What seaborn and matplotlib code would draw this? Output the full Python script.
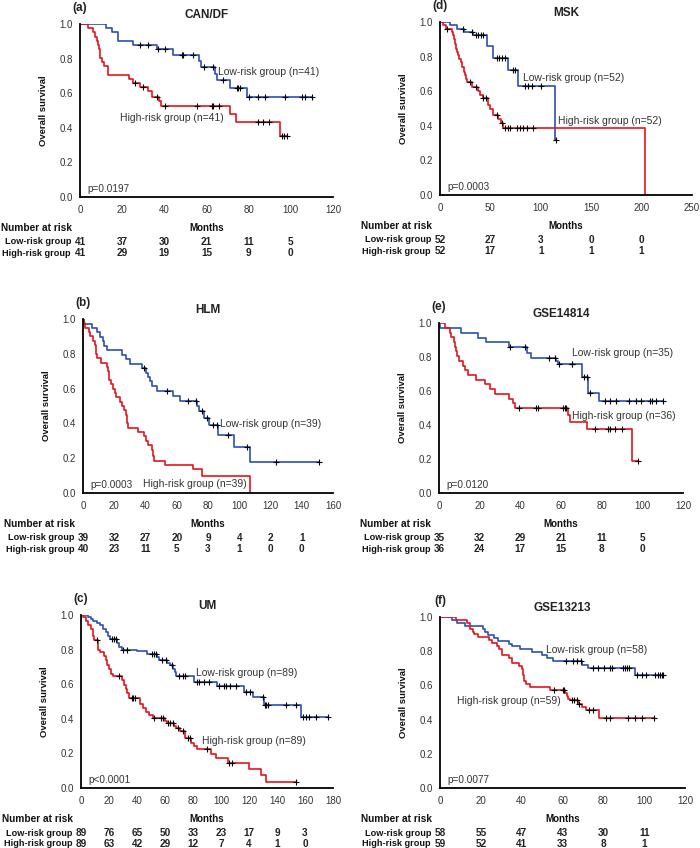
import numpy as np
import pandas as pd
import seaborn as sns
import matplotlib
matplotlib.use("Agg")
import matplotlib.pyplot as plt
from matplotlib import transforms

####################################################
# DATA  (step times in months, survival after each step, censor times)
####################################################

# (a) CAN/DF
can_low_t = [12.3, 15.3, 18.2, 25.3, 36.4, 44.3, 56.4, 57.4, 64.0, 65.1, 71.1, 79.4]
can_low_s = [0.976, 0.951, 0.902, 0.878, 0.853, 0.820, 0.787, 0.751, 0.713, 0.676, 0.631, 0.579]
can_low_cens = [28.5, 32.4, 37, 40.3, 48.2, 49, 53.4, 58.8, 63.2, 68, 74.3, 75.1, 75.9,
                80.3, 84.6, 87.7, 97.2, 105.1, 106.7, 109.9]
can_high_t = [4, 6, 7, 8, 8.7, 9.2, 9.5, 10.3, 11.4, 13.1, 23.4, 25.3, 28.5, 32.4, 34.3,
              37.6, 38.4, 71.1, 74, 94.9]
can_high_s = [0.976, 0.951, 0.927, 0.902, 0.878, 0.854, 0.805, 0.780, 0.756, 0.707, 0.683,
              0.659, 0.634, 0.610, 0.580, 0.553, 0.524, 0.479, 0.434, 0.351]
can_high_cens = [26, 30, 36.4, 40.3, 55.3, 62.5, 63.2, 66.1, 84.6, 87, 89.8, 95.7, 96.8, 98]
can_risk_t = [0, 20, 40, 60, 80, 100]
can_risk_low = [41, 37, 30, 21, 11, 5]
can_risk_high = [41, 29, 19, 15, 9, 0]

# (d) MSK
msk_low_t = [10, 17, 24, 33, 47, 52.3, 67.9, 77.8, 114.2]
msk_low_s = [0.981, 0.962, 0.942, 0.923, 0.861, 0.790, 0.723, 0.632, 0.316]
msk_low_cens = [22.5, 31.5, 35.8, 38, 40.4, 43, 56.3, 58.9, 61.3, 64.6, 72, 74.5, 84.4,
                87.7, 91, 100, 115]
msk_high_t = [3.3, 6.0, 11.6, 13.2, 14.2, 15.2, 15.9, 16.6, 18.2, 19.2, 20.9, 21.9, 24.2,
              24.8, 25.8, 27.2, 31.5, 38.1, 39.7, 42.4, 48.0, 49.7, 52.3, 57.3, 60.3, 62.3,
              203.6]
msk_high_s = [0.981, 0.962, 0.942, 0.923, 0.904, 0.875, 0.846, 0.827, 0.808, 0.788, 0.769,
              0.740, 0.712, 0.692, 0.673, 0.654, 0.625, 0.601, 0.580, 0.558, 0.522, 0.500,
              0.460, 0.440, 0.418, 0.385, 0.0]
msk_high_cens = [7.3, 29.8, 35.8, 43, 45.7, 56.3, 61.3, 64.6, 67.9, 69.5, 76, 79.5, 82.8,
                 86, 92]
msk_risk_t = [0, 50, 100, 150, 200]
msk_risk_low = [52, 27, 3, 0, 0]
msk_risk_high = [52, 17, 1, 1, 1]

# (b) HLM
hlm_low_t = [0.4, 5.7, 9.0, 10.6, 12.8, 13.6, 15.3, 24.9, 27.7, 29.8, 37.7, 40.2, 41.3,
             42.6, 44.0, 47.2, 57.4, 62.1, 73.2, 74.3, 77.4, 80.6, 86.6, 96.8, 106.8]
hlm_low_s = [0.974, 0.949, 0.923, 0.897, 0.872, 0.846, 0.821, 0.795, 0.769, 0.744, 0.718,
             0.692, 0.667, 0.641, 0.615, 0.589, 0.560, 0.531, 0.500, 0.469, 0.430, 0.391,
             0.334, 0.267, 0.178]
hlm_low_cens = [39.1, 53.6, 67.4, 72.3, 76.4, 79.6, 83.4, 85.5, 93.0, 105.1, 123.8, 151]
hlm_high_t = [0.5, 1.5, 3.6, 4.7, 6.4, 7.4, 8.3, 8.9, 11.7, 15.3, 16.0, 16.6, 17.7, 18.9,
              20.6, 21.3, 23.4, 24.9, 26.4, 27.4, 28.1, 29.1, 35.1, 39.1, 40.2, 41.9, 44.0,
              45.1, 45.7, 52.6, 70.6, 76.2, 106.8]
hlm_high_s = [0.975, 0.950, 0.925, 0.900, 0.875, 0.850, 0.800, 0.775, 0.750, 0.725, 0.700,
              0.650, 0.625, 0.600, 0.575, 0.550, 0.525, 0.500, 0.475, 0.450, 0.400, 0.375,
              0.350, 0.325, 0.300, 0.275, 0.250, 0.215, 0.185, 0.162, 0.136, 0.100, 0.0]
hlm_high_cens = []
hlm_risk_t = [0, 20, 40, 60, 80, 100, 120, 140]
hlm_risk_low = [39, 32, 27, 20, 9, 4, 2, 1]
hlm_risk_high = [40, 23, 11, 5, 3, 1, 0, 0]

# (e) GSE14814
g148_low_t = [0.3, 11.0, 19.2, 23.3, 34.3, 43.3, 45.0, 57.5, 58.4, 70.3, 73.3, 78.7]
g148_low_s = [0.971, 0.943, 0.914, 0.886, 0.857, 0.826, 0.796, 0.776, 0.760, 0.682, 0.590,
              0.542]
g148_low_cens = [34.8, 42.1, 53.9, 56.9, 58.9, 65.4, 65.6, 71.3, 72.6, 74.1, 81.5, 83.9,
                 87.2, 93.4, 96.7, 99.5, 103.6, 104.9, 106.6, 110.2]
g148_high_t = [2.8, 5.2, 6.0, 7.2, 7.9, 8.2, 8.9, 9.8, 11.8, 12.6, 14.3, 18.0, 22.5, 24.9,
               27.7, 34.4, 36.4, 37.2, 63.4, 64.3, 72.8, 94.9]
g148_high_s = [0.972, 0.944, 0.917, 0.889, 0.861, 0.833, 0.806, 0.778, 0.750, 0.722, 0.694,
               0.667, 0.639, 0.611, 0.583, 0.555, 0.527, 0.500, 0.458, 0.417, 0.375, 0.188]
g148_high_cens = [39.3, 47.9, 48.7, 61.0, 61.8, 62.6, 76.9, 83.1, 83.9, 86.7, 90.2, 97.9]
g148_risk_t = [0, 20, 40, 60, 80, 100]
g148_risk_low = [35, 32, 29, 21, 11, 5]
g148_risk_high = [36, 24, 17, 15, 8, 0]

# (c) UM
um_low_t = [5.2, 6.9, 8.8, 11.2, 13.6, 15.9, 17.8, 19.5, 20.7, 25.9, 27.3, 29.0, 39.7,
            46.8, 54.0, 55.9, 61.1, 63.5, 65.9, 67.0, 68.2, 80.8, 96.8, 116.3, 122.9,
            130.5, 157.4]
um_low_s = [0.989, 0.978, 0.966, 0.955, 0.944, 0.921, 0.899, 0.876, 0.860, 0.838, 0.817,
            0.800, 0.790, 0.776, 0.760, 0.742, 0.725, 0.709, 0.690, 0.670, 0.650, 0.611,
            0.590, 0.557, 0.524, 0.482, 0.412]
um_low_cens = [21.9, 23.5, 25.0, 30.2, 32.6, 50.4, 52.0, 53.5, 57.5, 60.4, 64.7, 70.1,
               72.5, 74.2, 83.2, 84.4, 87.7, 91.5, 98.7, 102.0, 103.9, 106.3, 110.6, 118.2,
               121.0, 129.8, 131.2, 132.4, 133.6, 146.2, 153.4, 158.6, 160.5, 162.9, 168.1,
               176.4]
um_high_t = [1.7, 3.6, 5.2, 6.9, 8.3, 9.5, 12.4, 13.6, 16.4, 17.8, 18.8, 20.0, 21.2, 23.1,
             29.0, 30.7, 31.9, 33.0, 34.5, 42.1, 44.5, 46.4, 48.7, 51.1, 59.9, 61.1, 66.3,
             68.2, 70.6, 74.2, 78.9, 80.6, 82.5, 92.5, 96.3, 104.8, 120.1, 128.9, 132.4]
um_high_s = [0.989, 0.966, 0.944, 0.921, 0.876, 0.854, 0.800, 0.787, 0.764, 0.738, 0.712,
             0.690, 0.658, 0.645, 0.622, 0.598, 0.575, 0.550, 0.518, 0.485, 0.462, 0.441,
             0.420, 0.403, 0.390, 0.375, 0.360, 0.345, 0.330, 0.287, 0.262, 0.245, 0.224,
             0.195, 0.173, 0.144, 0.112, 0.073, 0.035]
um_high_cens = [11.2, 27.3, 36.1, 37.3, 38.5, 52.3, 57.1, 58.7, 62.3, 63.5, 65.4, 69.4,
                73.0, 76.6, 78.2, 90.3, 105.8, 107.5, 153.4]
um_risk_t = [0, 20, 40, 60, 80, 100, 120, 140, 160]
um_risk_low = [89, 76, 65, 50, 33, 23, 17, 9, 3]
um_risk_high = [89, 63, 42, 29, 12, 7, 4, 1, 0]

# (f) GSE13213
g132_low_t = [6.0, 8.2, 12.2, 20.9, 22.0, 23.7, 26.4, 28.6, 34.0, 35.1, 39.2, 44.9, 49.8,
              52.2, 55.5, 69.4, 72.7, 95.5]
g132_low_s = [0.983, 0.966, 0.948, 0.931, 0.914, 0.897, 0.879, 0.862, 0.845, 0.828, 0.810,
              0.793, 0.776, 0.759, 0.741, 0.722, 0.703, 0.660]
g132_low_cens = [61.7, 65.0, 66.9, 68.9, 75.1, 77.6, 80.3, 83.3, 84.0, 89.8, 90.6, 91.4,
                 92.7, 96.3, 98.8, 100.9, 105.3, 106.9, 107.8, 108.6, 109.4]
g132_high_t = [7.8, 13.1, 14.7, 16.0, 16.7, 18.8, 24.2, 25.3, 27.8, 29.1, 30.2, 34.0, 35.1,
               38.9, 40.0, 40.5, 41.1, 42.1, 44.1, 53.9, 61.2, 62.0, 62.9, 63.7, 67.4, 69.4,
               71.5, 78.0]
g132_high_s = [0.983, 0.966, 0.932, 0.915, 0.898, 0.881, 0.864, 0.847, 0.830, 0.813, 0.780,
               0.763, 0.729, 0.712, 0.695, 0.661, 0.627, 0.610, 0.593, 0.576, 0.558, 0.540,
               0.522, 0.512, 0.490, 0.472, 0.455, 0.412]
g132_high_cens = [55.8, 60.4, 60.8, 64.5, 65.6, 66.9, 68.2, 73.1, 74.8, 81.3, 83.3, 92.2,
                  95.5, 98.8, 104.8]
g132_risk_t = [0, 20, 40, 60, 80, 100]
g132_risk_low = [58, 55, 47, 43, 30, 11]
g132_risk_high = [59, 52, 41, 33, 8, 1]

####################################################
# STYLE
####################################################
sns.set_style("white")
plt.rcParams['font.family'] = ['Liberation Sans', 'DejaVu Sans']
NARROW = ['Liberation Sans Narrow', 'Liberation Sans', 'DejaVu Sans']

BLUE = '#2b4fb4'
RED = '#e2151c'
TXT = '#333333'
W, H = 700, 848

panels = [
    dict(tag='(a)', title='CAN/DF', box=(80, 24, 333, 197), xmax=120, xstep=20,
         low=(can_low_t, can_low_s, can_low_cens), high=(can_high_t, can_high_s, can_high_cens),
         lab_low=(65.6, 0.724, 41), lab_high=(19, 0.454, 41), p='p=0.0197',
         risk=(can_risk_t, can_risk_low, can_risk_high)),
    dict(tag='(d)', title='MSK', box=(440, 22, 692, 195), xmax=250, xstep=50,
         low=(msk_low_t, msk_low_s, msk_low_cens), high=(msk_high_t, msk_high_s, msk_high_cens),
         lab_low=(82, 0.678, 52), lab_high=(116.6, 0.428, 52), p='p=0.0003',
         risk=(msk_risk_t, msk_risk_low, msk_risk_high)),
    dict(tag='(b)', title='HLM', box=(83, 319, 333, 493), xmax=160, xstep=20,
         low=(hlm_low_t, hlm_low_s, hlm_low_cens), high=(hlm_high_t, hlm_high_s, hlm_high_cens),
         lab_low=(87.7, 0.395, 39), lab_high=(38.4, 0.052, 39), p='p=0.0003',
         risk=(hlm_risk_t, hlm_risk_low, hlm_risk_high)),
    dict(tag='(e)', title='GSE14814', box=(439, 323, 683, 493), xmax=120, xstep=20,
         low=(g148_low_t, g148_low_s, g148_low_cens), high=(g148_high_t, g148_high_s, g148_high_cens),
         lab_low=(65.4, 0.823, 35), lab_high=(65.4, 0.454, 36), p='p=0.0120',
         risk=(g148_risk_t, g148_risk_low, g148_risk_high)),
    dict(tag='(c)', title='UM', box=(81, 615, 333, 788), xmax=180, xstep=20,
         low=(um_low_t, um_low_s, um_low_cens), high=(um_high_t, um_high_s, um_high_cens),
         lab_low=(82, 0.663, 89), lab_high=(86.5, 0.272, 89), p='p<0.0001',
         risk=(um_risk_t, um_risk_low, um_risk_high)),
    dict(tag='(f)', title='GSE13213', box=(440, 617, 685, 788), xmax=120, xstep=20,
         low=(g132_low_t, g132_low_s, g132_low_cens), high=(g132_high_t, g132_high_s, g132_high_cens),
         lab_low=(51.8, 0.809, 58), lab_high=(8.2, 0.506, 59), p='p=0.0077',
         risk=(g132_risk_t, g132_risk_low, g132_risk_high)),
]


def step_frame(t, s, cens):
    end = max(list(t) + list(cens))
    return pd.DataFrame({'Months': [0] + list(t) + [end],
                         'Survival': [1.0] + list(s) + [s[-1]]})


def surv_at(t, s, c):
    idx = np.searchsorted(np.asarray(t), np.asarray(c), side='right') - 1
    return np.where(idx >= 0, np.asarray(s)[np.clip(idx, 0, None)], 1.0)


def draw_curve(ax, curve, color):
    t, s, cens = curve
    df = step_frame(t, s, cens)
    sns.lineplot(data=df, x='Months', y='Survival', estimator=None, sort=False,
                 drawstyle='steps-post', color=color, lw=1.2, ax=ax)
    if len(cens):
        sns.scatterplot(x=cens, y=surv_at(t, s, cens), marker='+', color='black',
                        s=14, linewidth=0.8, ax=ax, zorder=4)


fig = plt.figure(figsize=(W / 100, H / 100), dpi=100)

for p in panels:
    l, t_, r, b = p['box']
    w, h = r - l, b - t_
    ax = fig.add_axes([l / W, 1 - b / H, w / W, h / H])
    draw_curve(ax, p['low'], BLUE)
    draw_curve(ax, p['high'], RED)

    ax.set_xlim(0, p['xmax'])
    ax.set_ylim(0, 1.0)
    ax.set_xticks(np.arange(0, p['xmax'] + 1, p['xstep']))
    ax.set_yticks(np.arange(0, 1.01, 0.2))
    ax.set_yticklabels([f'{v:.1f}' for v in np.arange(0, 1.01, 0.2)])
    for side in ['top', 'right']:
        ax.spines[side].set_visible(False)
    for side in ['left', 'bottom']:
        ax.spines[side].set_color('black')
        ax.spines[side].set_linewidth(1.3)
    ax.tick_params(axis='x', direction='inout', length=4, width=0.9, pad=4,
                   labelsize=7, labelcolor=TXT)
    ax.tick_params(axis='y', direction='out', length=3, width=0.9, pad=2,
                   labelsize=7, labelcolor=TXT)

    ax.set_ylabel('Overall survival', fontsize=6.8, fontweight='bold', color='#111')
    ax.yaxis.set_label_coords(-32 / w, 0.5)
    ax.set_xlabel('Months', fontsize=7, fontweight='bold', color='#111', va='center')
    ax.xaxis.set_label_coords(0.5, -31 / h)

    # headings
    ax.text(0.5, 1 + 9 / h, p['title'], transform=ax.transAxes, ha='center', va='center',
            fontsize=8.5, fontweight='bold', color='#222')
    ax.text(0, 1 + 16 / h, p['tag'], transform=ax.transAxes, ha='center', va='center',
            fontsize=8.5, fontweight='bold', color='#222')
    ax.text(7 / w, 8 / h, p['p'], transform=ax.transAxes, ha='left', va='center',
            fontsize=7.2, color=TXT)

    # group labels
    x, y, n = p['lab_low']
    ax.text(x, y, f'Low-risk group (n={n})', ha='left', va='center', fontsize=7.5, color=TXT)
    x, y, n = p['lab_high']
    ax.text(x, y, f'High-risk group (n={n})', ha='left', va='center', fontsize=7.5, color=TXT)

    # number at risk table
    rt, rlow, rhigh = p['risk']
    blend = transforms.blended_transform_factory(ax.transData, ax.transAxes)
    ax.text(-79 / w, -31 / h, 'Number at risk', transform=ax.transAxes, ha='left',
            va='center', fontsize=7.3, fontweight='bold', family=NARROW, color='#111')
    ax.text(-9 / w, -45 / h, 'Low-risk group', transform=ax.transAxes, ha='right',
            va='center', fontsize=6.6, fontweight='bold', family=NARROW, color='#111')
    ax.text(-9 / w, -56 / h, 'High-risk group', transform=ax.transAxes, ha='right',
            va='center', fontsize=6.6, fontweight='bold', family=NARROW, color='#111')
    for xv, nl, nh in zip(rt, rlow, rhigh):
        ax.text(xv, -45 / h, str(nl), transform=blend, ha='center', va='center',
                fontsize=7.2, family=NARROW, fontweight='bold', color='#222')
        ax.text(xv, -56 / h, str(nh), transform=blend, ha='center', va='center',
                fontsize=7.2, family=NARROW, fontweight='bold', color='#222')

fig.savefig('out.png', dpi=100)
